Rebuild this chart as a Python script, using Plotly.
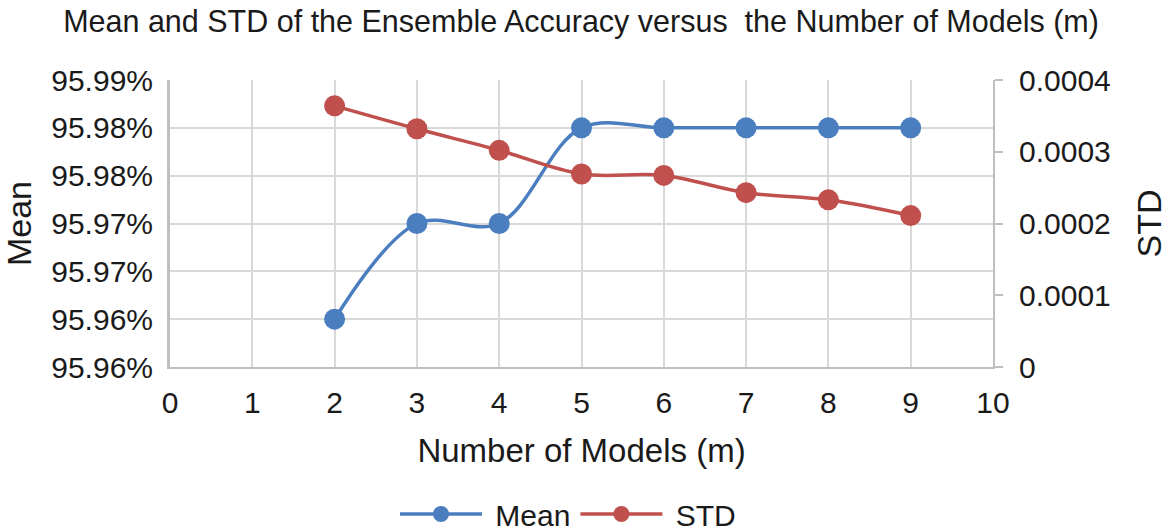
import plotly.graph_objects as go

models = [2, 3, 4, 5, 6, 7, 8, 9]
mean_vals = [95.960, 95.970, 95.970, 95.980, 95.980, 95.980, 95.980, 95.980]
std_vals = [0.000364, 0.000332, 0.000302, 0.000269, 0.000267, 0.000243, 0.000233, 0.000211]

mean_tickvals = [95.955, 95.960, 95.965, 95.970, 95.975, 95.980, 95.985]
mean_ticktext = ["95.96%", "95.96%", "95.97%", "95.97%", "95.98%", "95.98%", "95.99%"]
std_tickvals = [0, 0.0001, 0.0002, 0.0003, 0.0004]
std_ticktext = ["0", "0.0001", "0.0002", "0.0003", "0.0004"]
x_ticks = list(range(0, 11))

BLUE = "#4A7EBF"
RED = "#C0504D"
FONT = "Liberation Sans, Arial, sans-serif"
TXT = "#1a1a1a"

fig = go.Figure()
fig.add_trace(go.Scatter(
    x=models, y=mean_vals, name="&nbsp;Mean", mode="lines+markers",
    line=dict(color=BLUE, width=3.5, shape="spline", smoothing=1.0),
    marker=dict(color=BLUE, size=21), yaxis="y"))
fig.add_trace(go.Scatter(
    x=models, y=std_vals, name="&nbsp;STD", mode="lines+markers",
    line=dict(color=RED, width=3.5, shape="spline", smoothing=1.0),
    marker=dict(color=RED, size=21), yaxis="y2"))

fig.update_layout(
    width=1168, height=531,
    margin=dict(l=170, r=175, t=80, b=164, autoexpand=False),
    paper_bgcolor="white", plot_bgcolor="white",
    font=dict(family=FONT, color=TXT),
    title=dict(text="Mean and STD of the Ensemble Accuracy versus&nbsp; the Number of Models (m)",
               x=581 / 1168, xanchor="center", xref="container", y=1 - 21 / 531, yanchor="middle", yref="container",
               font=dict(size=30.5, family=FONT, color=TXT)),
    xaxis=dict(range=[0, 10], tickvals=x_ticks, ticktext=[str(v) for v in x_ticks],
               showgrid=True, gridcolor="#D9D9D9", gridwidth=2,
               showline=True, linecolor="#BFBFBF", linewidth=2,
               zeroline=False, ticks="", ticklabelstandoff=8, tickfont=dict(size=30),
               automargin=False,
               title=dict(text="Number of Models (m)", font=dict(size=33), standoff=21)),
    yaxis=dict(range=[95.955, 95.985], tickvals=mean_tickvals, ticktext=mean_ticktext,
               showgrid=True, gridcolor="#D9D9D9", gridwidth=2,
               showline=True, linecolor="#BFBFBF", linewidth=3,
               zeroline=False, ticks="", ticklabelstandoff=8, tickfont=dict(size=30),
               automargin=False,
               title=dict(text="Mean", font=dict(size=34), standoff=12)),
    yaxis2=dict(range=[0, 0.0004], tickvals=std_tickvals, ticktext=std_ticktext,
                overlaying="y", side="right", showgrid=False,
                showline=True, linecolor="#BFBFBF", linewidth=2,
                zeroline=False, ticks="outside", ticklen=8, tickcolor="#BFBFBF", tickwidth=2,
                ticklabelstandoff=10, tickfont=dict(size=30), automargin=False,
                title=dict(text="STD", font=dict(size=34), standoff=27)),
    legend=dict(orientation="h", x=568 / 1168, xanchor="center", xref="container",
                y=1 - 514 / 531, yanchor="middle", yref="container",
                font=dict(size=30), itemwidth=82, bgcolor="rgba(0,0,0,0)"),
    showlegend=True,
)

fig.write_html("out.html", config={"displayModeBar": False},
               post_script="document.body.style.margin='0';document.body.style.overflow='hidden';")
